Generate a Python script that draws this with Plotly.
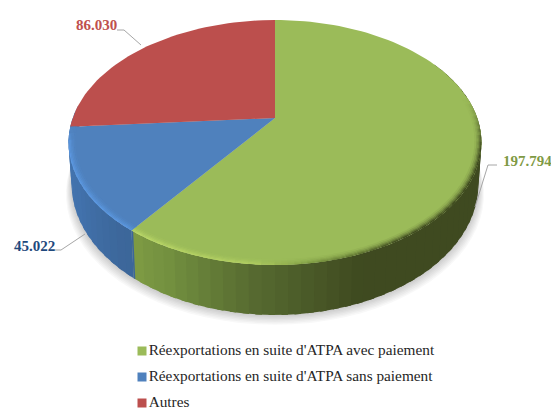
import math
import plotly.graph_objects as go

categories = ["Réexportations en suite d'ATPA avec paiement",
              "Réexportations en suite d'ATPA sans paiement",
              "Autres"]
values = [197794, 45022, 86030]
top_colors = ["#9BBB59", "#4F81BD", "#BC4F4D"]
label_colors = ["#7F9A45", "#1F497D", "#C0504D"]

W, H = 551, 410
CX, CY, A, B, K, D = 275, 118, 202.3, 117.6, 0.2, 40


def hex2rgb(c):
    return tuple(int(c[i:i + 2], 16) for i in (1, 3, 5))


def mix(c1, c2, t):
    t = max(0.0, min(1.0, t))
    return tuple(a + (b - a) * t for a, b in zip(c1, c2))


def css(c):
    return "rgb(%d,%d,%d)" % tuple(round(x) for x in c)


def interp(stops, t):
    if t <= stops[0][0]:
        return hex2rgb(stops[0][1])
    for (a, ca), (b, cb) in zip(stops, stops[1:]):
        if t <= b:
            return mix(hex2rgb(ca), hex2rgb(cb), (t - a) / (b - a))
    return hex2rgb(stops[-1][1])


def top_pt(deg, r=1.0):
    th = math.radians(deg)
    u, v = r * math.sin(th), r * math.cos(th)
    w = 1 + K * v
    return CX + A * u / w, CY - B * v / w


def bot_pt(deg):
    th = math.radians(deg)
    u, v = math.sin(th), math.cos(th)
    w = 1 + K * v
    return CX + 0.985 * A * u / w, CY - B * v / w + D / w


total = sum(values)
edges = [0.0]
for val in values:
    edges.append(edges[-1] + 360.0 * val / total)
G_END, B_END = edges[1], edges[2]

green_wall = [(60, "#3F4A20"), (160, "#3F4A20"), (185, "#566A30"), (205, "#728F3F"), (G_END, "#7F9C44")]
blue_wall = [(G_END, "#3C6699"), (240, "#4272AC"), (B_END, "#4676B0"), (290, "#4676B0")]
green_rim = [(60, "#5F7535"), (100, "#3F4A20"), (150, "#3F4A20"), (172, "#7F9C44"), (185, "#B2CF62"), (G_END, "#BAD768")]
blue_rim = [(G_END, "#5C98E0"), (B_END - 8, "#5C98E0"), (B_END, "#4F81BD")]


def wall_color(d):
    return interp(green_wall, d) if d < G_END else interp(blue_wall, d)


def rim_color(d):
    return interp(green_rim, d) if d < G_END else interp(blue_rim, d)


fig = go.Figure()


def poly(pts, color):
    xs = [p[0] for p in pts] + [pts[0][0]]
    ys = [p[1] for p in pts] + [pts[0][1]]
    fig.add_trace(go.Scatter(x=xs, y=ys, mode="lines", fill="toself", fillcolor=color,
                             line=dict(color=color, width=0), hoverinfo="skip", showlegend=False))


# soft shadow below the wall
for k in range(7, 0, -1):
    pts = []
    for d in range(0, 360, 4):
        x, y = bot_pt(d)
        pts.append((CX + (x - CX) * (1 + 0.004 * k), y + 1.4 * k))
    poly(pts, "rgba(0,0,0,0.028)")

# wall strips (each overlaps the next so no seam shows)
STEP = 3
OV = 1.5
angles = [60 + STEP * i for i in range(int((276 - 60) / STEP))]
for d in angles:
    n = d + STEP
    col = css(wall_color(d + STEP / 2))
    if d < G_END:
        end = min(n + OV, G_END)
        poly([top_pt(d), top_pt(end), bot_pt(end), bot_pt(d)], col)
for d in angles[::-1]:
    n = d + STEP
    if n > G_END:
        start = max(d - OV, G_END)
        col = css(wall_color(start + STEP / 2))
        poly([top_pt(start), top_pt(n), bot_pt(n), bot_pt(start)], col)

# top surface
for i, col in enumerate(top_colors):
    a, b = edges[i], edges[i + 1]
    n = max(2, int((b - a) / 2))
    pts = [(CX, CY)] + [top_pt(a + (b - a) * j / n) for j in range(n + 1)]
    poly(pts, col)

# bevel rings along the front edge, painted from the inside out
rings = [0.968, 0.976, 0.983, 0.989, 0.995, 1.0]
for j in range(len(rings) - 1):
    for rng in (0, 1):
        lo, hi = (80.0, G_END) if rng == 0 else (G_END, B_END)
        m_steps = max(1, int((hi - lo) / STEP))
        seq = range(m_steps) if rng == 0 else range(m_steps - 1, -1, -1)
        for s in seq:
            d = lo + (hi - lo) * s / m_steps
            n = lo + (hi - lo) * (s + 1) / m_steps
            m = (d + n) / 2
            base = hex2rgb(top_colors[rng])
            fade = min(1.0, (m - 80) / 25)
            t = ((j + 1) / (len(rings) - 1)) ** 1.5 * fade
            col = css(mix(base, rim_color(m), t))
            if rng == 0:
                n2, d2 = min(n + OV, hi), d
            else:
                n2, d2 = n, max(d - OV, lo)
            poly([top_pt(d2, rings[j]), top_pt(n2, rings[j]),
                  top_pt(n2, rings[j + 1]), top_pt(d2, rings[j + 1])], col)

# leader lines
leaders = [[(497, 165), (488, 165), (475, 207)],
           [(54, 250), (61, 250), (85, 234)],
           [(117, 30), (124, 30), (141, 45)]]
for pts in leaders:
    fig.add_trace(go.Scatter(x=[p[0] for p in pts], y=[p[1] for p in pts], mode="lines",
                             line=dict(color="#A6A6A6", width=1), hoverinfo="skip", showlegend=False))

# value labels
label_pos = [(527, 161), (34, 246), (96, 25)]
for val, col, (x, y) in zip(values, label_colors, label_pos):
    fig.add_annotation(x=x, y=y, text="<b>%s</b>" % f"{val:,}".replace(",", "."), showarrow=False,
                       font=dict(family="Liberation Serif", size=15, color=col))

# legend rows
legend_y = [351, 377, 403]
fig.add_trace(go.Scatter(x=[142] * 3, y=legend_y, mode="markers+text", text=categories,
                         textposition="middle right",
                         textfont=dict(family="Liberation Serif", size=15.3, color="#262626"),
                         marker=dict(symbol="square", size=9, color=top_colors),
                         hoverinfo="skip", showlegend=False))

fig.update_layout(width=W, height=H, margin=dict(l=0, r=0, t=0, b=0),
                  paper_bgcolor="white", plot_bgcolor="white", showlegend=False,
                  xaxis=dict(range=[0, W], visible=False, fixedrange=True),
                  yaxis=dict(range=[H, 0], visible=False, fixedrange=True))

fig.write_html("out.html", post_script="document.body.style.margin='0';", config={"displayModeBar": False})
